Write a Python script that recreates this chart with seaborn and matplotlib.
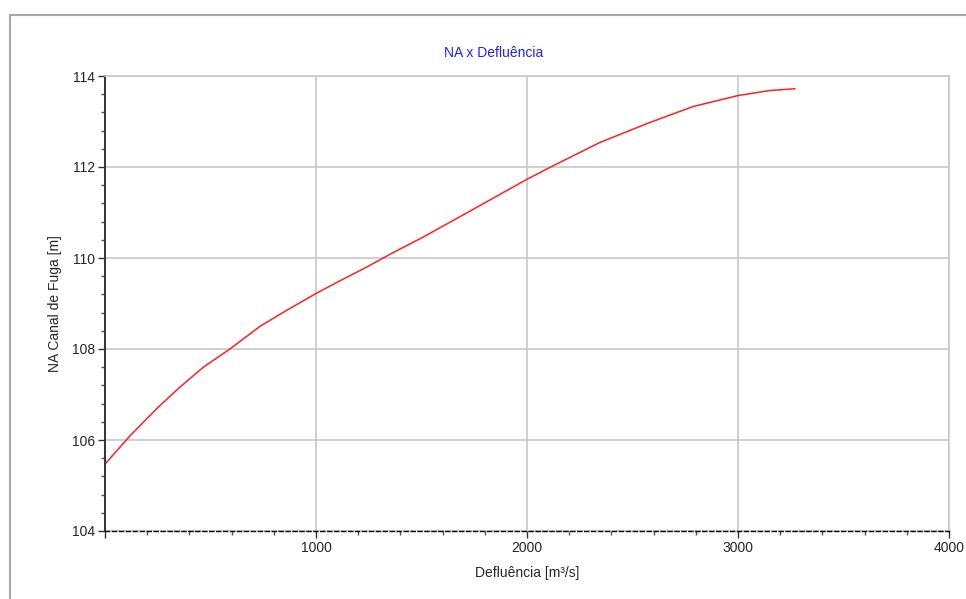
import numpy as np
import pandas as pd
import seaborn as sns
import matplotlib.pyplot as plt
from matplotlib.patches import Rectangle
from matplotlib.ticker import MultipleLocator, FixedLocator

# curve: outflow [m3/s] vs tailwater level [m]
defluencia = [0, 118, 245, 352, 466, 592, 735, 861, 1000, 1114, 1240, 1366,
              1500, 1714, 2000, 2125, 2346, 2583, 2788, 3000, 3150, 3270]
na_canal = [105.47, 106.09, 106.69, 107.15, 107.6, 108.0, 108.5, 108.85, 109.22,
            109.5, 109.8, 110.12, 110.44, 110.99, 111.73, 112.03, 112.54, 112.98,
            113.33, 113.57, 113.68, 113.72]

df = pd.DataFrame({"Defluência": defluencia, "NA": na_canal})

sns.set_style("white")
plt.rcParams["font.family"] = ["Liberation Sans", "DejaVu Sans"]

fig = plt.figure(figsize=(9.66, 5.99), dpi=100)
ax = fig.add_axes([105 / 966, 68 / 599, 844 / 966, 455 / 599])

sns.lineplot(data=df, x="Defluência", y="NA", color="#ff2020", linewidth=1.1, ax=ax)

ax.set_xlim(0, 4000)
ax.set_ylim(104, 114)
ax.xaxis.set_major_locator(FixedLocator([0, 1000, 2000, 3000, 4000]))
ax.set_xticklabels(["", "1000", "2000", "3000", "4000"])
ax.xaxis.set_minor_locator(MultipleLocator(200))
ax.yaxis.set_major_locator(MultipleLocator(2))
ax.yaxis.set_minor_locator(MultipleLocator(0.4))

ax.grid(True, which="major", color="#c8c8c8", linewidth=1.2)
ax.tick_params(which="major", direction="out", length=5, width=1, color="#333333",
               labelsize=10, pad=2, left=True, bottom=True)
ax.tick_params(which="minor", direction="out", length=3, width=1, color="#555555",
               left=True, bottom=True)

ax.spines["left"].set_color("#333333")
ax.spines["left"].set_linewidth(1.4)
ax.spines["bottom"].set_color("black")
ax.spines["bottom"].set_linestyle((0, (3, 2)))
ax.spines["bottom"].set_linewidth(1.0)
for s in ["top", "right"]:
    ax.spines[s].set_color("#c8c8c8")
    ax.spines[s].set_linewidth(1.2)

ax.set_xlabel("Defluência [m³/s]", fontsize=10, labelpad=8)
ax.set_ylabel("NA Canal de Fuga [m]", fontsize=10, labelpad=7)
fig.text(494 / 966, 1 - 53 / 599, "NA x Defluência", color="#2020ff",
         fontsize=10, ha="center", va="center")

# outer frame
fig.patches.append(Rectangle((9.5 / 966, -0.05), 1.0, 1 - 14.5 / 599 + 0.05,
                             transform=fig.transFigure, fill=False,
                             edgecolor="#a8a8a8", linewidth=1.5))

plt.savefig("out.png", dpi=100)
plt.close()
